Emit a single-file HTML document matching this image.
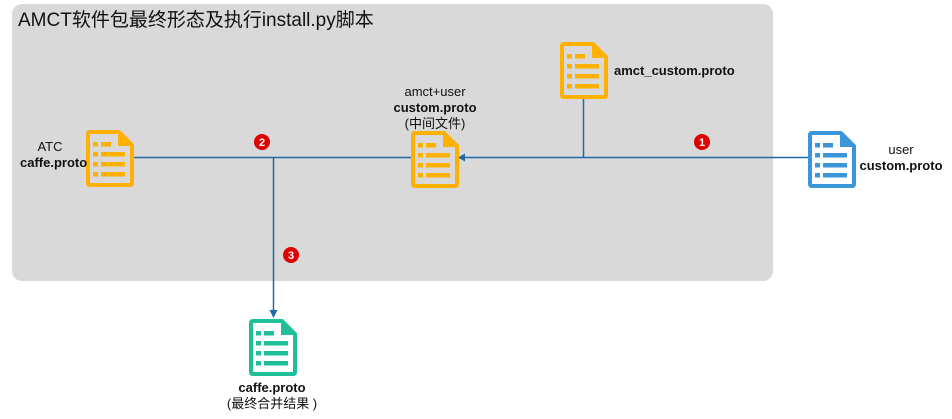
<!DOCTYPE html>
<html><head><meta charset="utf-8"><style>
body{margin:0;width:952px;height:419px;background:#fff;position:relative;overflow:hidden;font-family:"Liberation Sans","Noto Sans CJK SC",sans-serif;}
.box{position:absolute;left:12px;top:4px;width:761px;height:277px;background:#d9d9d9;border-radius:10px;}
.t{position:absolute;font-size:13px;color:#111;white-space:nowrap;text-align:center;line-height:16px}
b{font-weight:bold}
</style></head><body>
<div class="box"></div>
<div class="t" style="left:18px;top:9px;font-size:19px;line-height:24px;text-align:left">AMCT软件包最终形态及执行install.py脚本</div>
<svg width="952" height="419" style="position:absolute;left:0;top:0">
<defs>
<g id="ic">
<path d="M4 2 H33 L46 15 V53 Q46 55 44 55 H4 Q2 55 2 53 V4 Q2 2 4 2 Z" fill="none" stroke-width="4" stroke="currentColor" stroke-linejoin="round"/>
<path d="M32 3 L45 16 H32 Z" fill="currentColor"/>
<rect x="7" y="12" width="5" height="4.5" fill="currentColor"/><rect x="15" y="12" width="10" height="4.5" fill="currentColor"/>
<rect x="7" y="22" width="5" height="4.5" fill="currentColor"/><rect x="15" y="22" width="24" height="4.5" fill="currentColor"/>
<rect x="7" y="32" width="5" height="4.5" fill="currentColor"/><rect x="15" y="32" width="24" height="4.5" fill="currentColor"/>
<rect x="7" y="42" width="5" height="4.5" fill="currentColor"/><rect x="15" y="42" width="24" height="4.5" fill="currentColor"/>
</g>
</defs>
<g stroke="#1f6aa5" stroke-width="1.5" fill="none">
<line x1="133" y1="157.5" x2="411" y2="157.5"/>
<line x1="458" y1="157.5" x2="808" y2="157.5"/>
<line x1="583.5" y1="98" x2="583.5" y2="157"/>
<line x1="273.5" y1="157" x2="273.5" y2="312"/>
</g>
<path d="M458 157.5 L465 153.5 L465 161.5 Z" fill="#1f6aa5"/>
<path d="M273.5 318 L269.5 310 L277.5 310 Z" fill="#1f6aa5"/>
<use href="#ic" x="86" y="130" style="color:#ffb000"/>
<use href="#ic" x="411" y="131" style="color:#ffb000"/>
<use href="#ic" x="560" y="42" style="color:#ffb000"/>
<use href="#ic" x="808" y="131" style="color:#3a96d9"/>
<use href="#ic" x="249" y="319" style="color:#1fbf9a"/>
<g font-family="Liberation Sans,sans-serif" font-weight="bold" font-size="11" fill="#fff" text-anchor="middle">
<circle cx="702" cy="142" r="8" fill="#e00000"/><text x="702" y="146">1</text>
<circle cx="262" cy="142" r="8" fill="#e00000"/><text x="262" y="146">2</text>
<circle cx="291" cy="255" r="8" fill="#e00000"/><text x="291" y="259">3</text>
</g>
</svg>
<div class="t" style="left:20px;top:139px;width:60px">ATC<br><b>caffe.proto</b></div>
<div class="t" style="left:375px;top:84px;width:120px;line-height:16px">amct+user<br><b>custom.proto</b><br>(中间文件)</div>
<div class="t" style="left:614px;top:63px;text-align:left"><b>amct_custom.proto</b></div>
<div class="t" style="left:855px;top:142px;width:92px">user<br><b>custom.proto</b></div>
<div class="t" style="left:212px;top:380px;width:120px"><b>caffe.proto</b><br>(最终合并结果 )</div>
</body></html>
